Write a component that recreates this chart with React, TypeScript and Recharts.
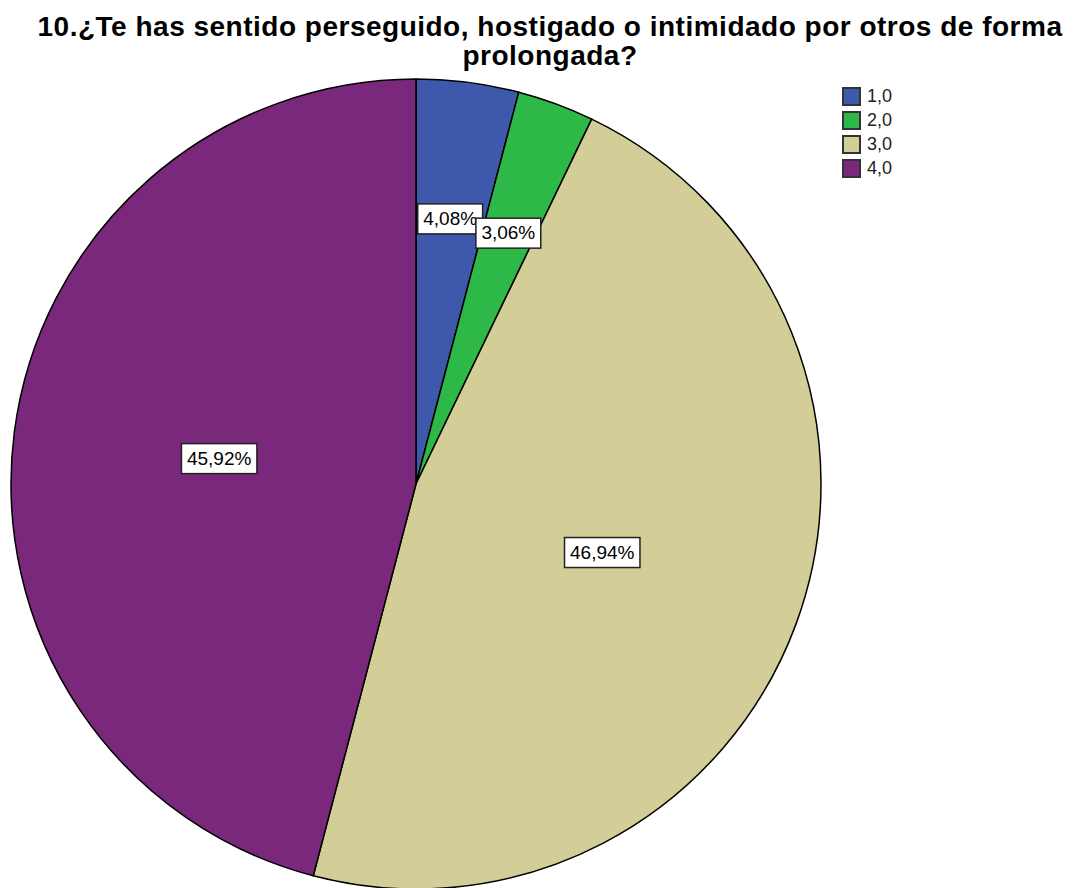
// SPSS-style pie chart: question 10 responses

import { PieChart, Pie, Cell } from 'recharts';

const categories = ['1,0', '2,0', '3,0', '4,0'];
const counts = [4, 3, 46, 45];
const colors = ['#3E58AC', '#2EB848', '#D3CE97', '#7A287B'];

const titleLines = [
  '10.¿Te has sentido perseguido, hostigado o intimidado por otros de forma',
  'prolongada?',
];

const data = categories.map((name, i) => ({ name, value: counts[i] }));

const RAD = Math.PI / 180;
const FONT = 'Arial, "Liberation Sans", sans-serif';

// rough Arial advance widths (em) for the label characters
const charW = (ch: string) => (ch === ',' ? 0.278 : ch === '%' ? 0.889 : 0.556);

interface LabelProps {
  cx: number;
  cy: number;
  midAngle: number;
  outerRadius: number;
  percent: number;
}

function PercentLabel({ cx, cy, midAngle, outerRadius, percent }: LabelProps) {
  // small slices get their label further out, like SPSS does
  const r = outerRadius * (percent < 0.1 ? 0.66 : 0.49);
  const x = cx + r * Math.cos(-midAngle * RAD);
  const y = cy + r * Math.sin(-midAngle * RAD);
  const text = (percent * 100).toFixed(2).replace('.', ',') + '%';
  const fs = 19;
  const w = text.split('').reduce((s, ch) => s + charW(ch), 0) * fs + 11;
  const h = 30;
  return (
    <g>
      <rect x={x - w / 2} y={y - h / 2} width={w} height={h} fill="#fff" stroke="#222" strokeWidth={1.5} />
      <text x={x} y={y + 1} textAnchor="middle" dominantBaseline="middle" fontSize={fs} fontFamily={FONT} fill="#000">
        {text}
      </text>
    </g>
  );
}

function LegendBox() {
  return (
    <div style={{ position: 'absolute', left: 842, top: 84, fontFamily: FONT, fontSize: 18 }}>
      {categories.map((c, i) => (
        <div key={c} style={{ display: 'flex', alignItems: 'center', height: 24 }}>
          <span
            style={{
              width: 15,
              height: 15,
              background: colors[i],
              border: '2px solid #333',
              marginRight: 6,
              display: 'inline-block',
            }}
          />
          <span style={{ color: '#222' }}>{c}</span>
        </div>
      ))}
    </div>
  );
}

export default function App() {
  return (
    <div style={{ position: 'absolute', left: 0, top: 0, width: 1073, height: 888, background: '#fff', overflow: 'hidden' }}>
      <PieChart width={1073} height={888} margin={{ top: 0, right: 0, bottom: 0, left: 0 }} style={{ position: 'absolute', left: 0, top: 0 }}>
        <Pie
          data={data}
          dataKey="value"
          nameKey="name"
          cx={416}
          cy={484}
          outerRadius={405}
          startAngle={90}
          endAngle={-270}
          stroke="#000"
          strokeWidth={1.5}
          label={PercentLabel}
          labelLine={false}
          isAnimationActive={false}
        >
          {data.map((d, i) => (
            <Cell key={d.name} fill={colors[i]} />
          ))}
        </Pie>
      </PieChart>
      <div
        style={{
          position: 'absolute',
          left: 0,
          top: 12,
          width: 1100,
          textAlign: 'center',
          fontFamily: FONT,
          fontWeight: 'bold',
          fontSize: 28,
          letterSpacing: 0.5,
          lineHeight: '29px',
        }}
      >
        {titleLines.map(l => (
          <div key={l}>{l}</div>
        ))}
      </div>
      <LegendBox />
    </div>
  );
}
